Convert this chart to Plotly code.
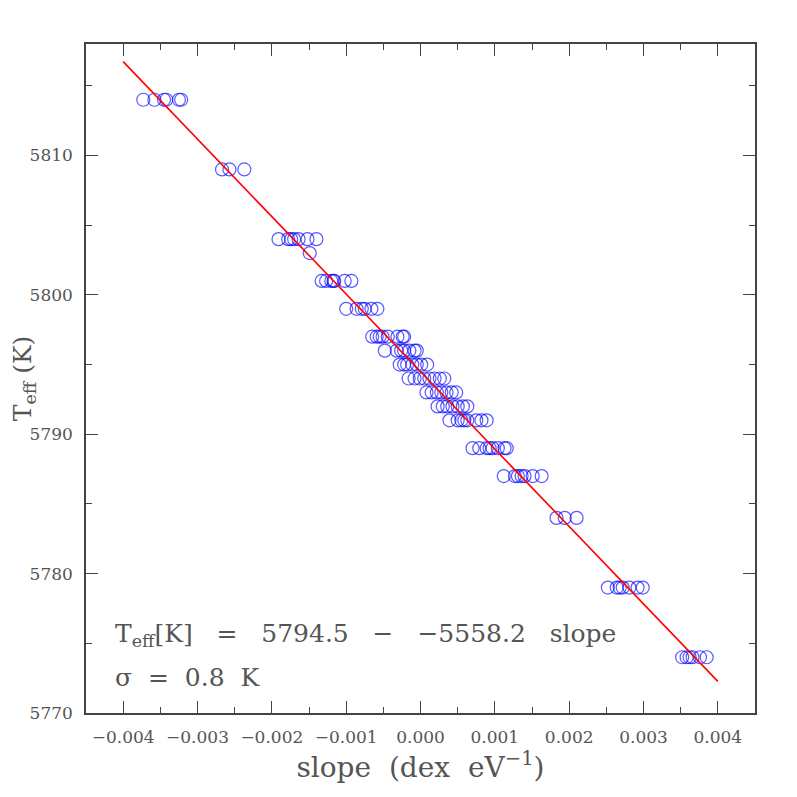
import plotly.graph_objects as go

# Teff levels (K) and the slopes (dex/eV) of the circles found at each level
teff_levels = [5814, 5809, 5804, 5803, 5801, 5799, 5797, 5796, 5795, 5794,
               5793, 5792, 5791, 5789, 5787, 5784, 5779, 5774]

slopes_per_level = [
    [-0.00373, -0.00358, -0.00345, -0.00342, -0.00325, -0.00322],
    [-0.00267, -0.00257, -0.00237],
    [-0.00191, -0.00178, -0.00174, -0.00170, -0.00164, -0.00152, -0.00140],
    [-0.00149],
    [-0.00133, -0.00127, -0.00120, -0.00117, -0.00116, -0.00102, -0.00093],
    [-0.00100, -0.00086, -0.00079, -0.00075, -0.00066, -0.00058],
    [-0.00065, -0.00059, -0.00055, -0.00051, -0.00044, -0.00031, -0.00024, -0.00022],
    [-0.00048, -0.00032, -0.00026, -0.00022, -0.00015, -0.00008, -0.00005],
    [-0.00028, -0.00022, -0.00018, -0.00011, -0.00005, 0.00001, 0.00009],
    [-0.00016, -0.00008, -0.00001, 0.00005, 0.00012, 0.00019, 0.00026, 0.00032],
    [0.00008, 0.00015, 0.00022, 0.00028, 0.00035, 0.00042, 0.00048],
    [0.00023, 0.00030, 0.00036, 0.00043, 0.00050, 0.00057, 0.00063],
    [0.00039, 0.00050, 0.00055, 0.00059, 0.00063, 0.00075, 0.00082, 0.00089],
    [0.00070, 0.00079, 0.00089, 0.00093, 0.00097, 0.00104, 0.00113, 0.00116],
    [0.00112, 0.00127, 0.00131, 0.00136, 0.00140, 0.00151, 0.00163],
    [0.00183, 0.00194, 0.00210],
    [0.00252, 0.00264, 0.00268, 0.00272, 0.00281, 0.00292, 0.00299],
    [0.00352, 0.00358, 0.00362, 0.00366, 0.00376, 0.00385],
]

# linear fit reported on the chart
fit_intercept = 5794.5
fit_slope = -5558.2
fit_sigma = 0.8
fit_x = [-0.004, 0.004]

x_pts = []
y_pts = []
for teff, slopes in zip(teff_levels, slopes_per_level):
    for s in slopes:
        x_pts.append(s)
        y_pts.append(teff)

fit_y = [fit_intercept + fit_slope * x for x in fit_x]

text_font = dict(family="DejaVu Serif", color="#555555")
axis_color = "#444444"
minus = '\u2212'

fig = go.Figure()

fig.add_trace(
    go.Scatter(
        x=x_pts,
        y=y_pts,
        mode='markers',
        marker=dict(
            symbol='circle-open',
            size=13,
            color='rgba(0, 0, 255, 0.65)',
            line=dict(width=1.2)
        ),
        showlegend=False
    )
)

fig.add_trace(
    go.Scatter(
        x=fit_x,
        y=fit_y,
        mode='lines',
        line=dict(color='red', width=1.6),
        showlegend=False
    )
)

fig.add_annotation(
    x=0.040, y=0.116, xref='paper', yref='paper',
    xanchor='left', yanchor='middle',
    text="T<sub>eff</sub>[K]   =   %.1f   %s   %s   slope" % (
        fit_intercept, minus, ("%.1f" % fit_slope).replace('-', minus)),
    showarrow=False,
    font=dict(size=25, **text_font)
)

fig.add_annotation(
    x=0.040, y=0.053, xref='paper', yref='paper',
    xanchor='left', yanchor='middle',
    text="\u03c3  =  %.1f  K" % fit_sigma,
    showarrow=False,
    font=dict(size=25, **text_font)
)

fig.update_layout(
    width=797,
    height=797,
    margin=dict(l=78, r=50, t=36, b=92),
    plot_bgcolor='white',
    paper_bgcolor='white',
    font=dict(size=17, **text_font)
)

fig.update_xaxes(
    range=[-0.0045, 0.0045],
    tickmode='array',
    tickvals=[-0.004, -0.003, -0.002, -0.001, 0.0, 0.001, 0.002, 0.003, 0.004],
    tickformat='.3f',
    ticks='inside',
    ticklen=12,
    tickcolor=axis_color,
    ticklabelstandoff=8,
    minor=dict(dtick=0.0005, ticks='inside', ticklen=6, tickcolor=axis_color),
    showline=True,
    linecolor=axis_color,
    linewidth=1.5,
    mirror='ticks',
    showgrid=False,
    zeroline=False,
    automargin=False,
    title_text="slope  (dex  eV<sup>%s1</sup>)" % minus,
    title_font=dict(size=28),
    title_standoff=6
)

fig.update_yaxes(
    range=[5770, 5818],
    tickmode='array',
    tickvals=[5770, 5780, 5790, 5800, 5810],
    ticks='inside',
    ticklen=12,
    tickcolor=axis_color,
    ticklabelstandoff=8,
    minor=dict(dtick=5, ticks='inside', ticklen=6, tickcolor=axis_color),
    showline=True,
    linecolor=axis_color,
    linewidth=1.5,
    mirror='ticks',
    showgrid=False,
    zeroline=False,
    automargin=False,
    title_text="T<sub>eff</sub> (K)",
    title_font=dict(size=25),
    title_standoff=12
)

fig.write_html("out.html")
